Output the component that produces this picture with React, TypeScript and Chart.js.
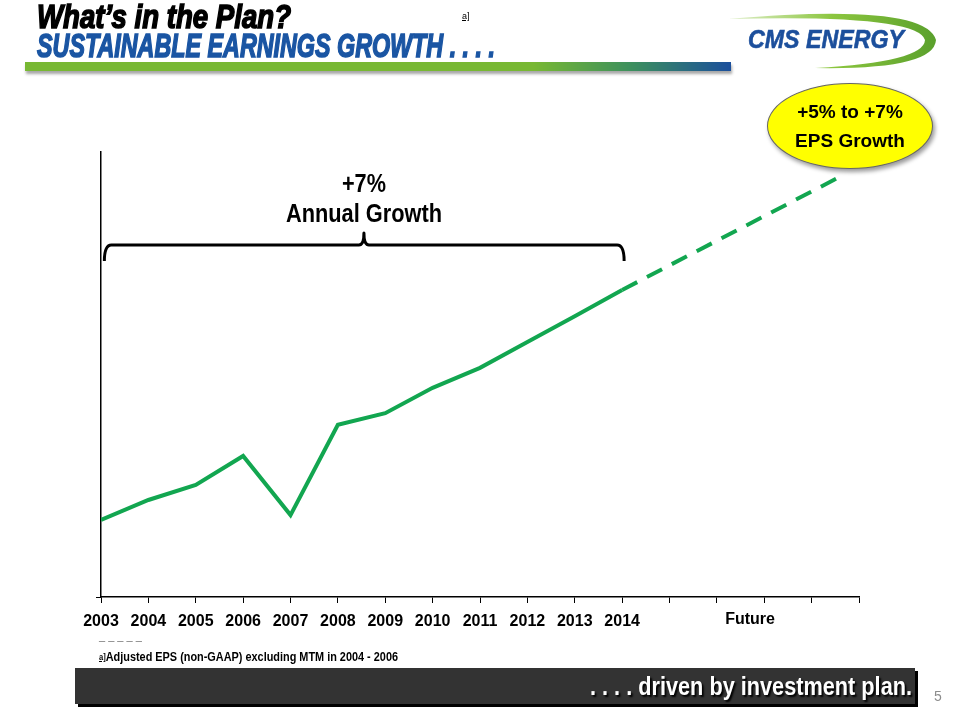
import React, { useEffect, useLayoutEffect, useRef } from "react";
import { Chart, registerables } from "chart.js";

Chart.register(...registerables);

// ---- data ----
const years = ["2003", "2004", "2005", "2006", "2007", "2008", "2009", "2010", "2011", "2012", "2013", "2014"];
const eps = [1.73, 2.18, 2.52, 3.17, 1.84, 3.87, 4.13, 4.7, 5.15, 5.73, 6.31, 6.9];
const futureX = [11, 15.52];
const futureY = [6.9, 9.4];
const futureLabel = "Future";
const futureLabelX = 13.7;
const bracketSpan = [0.05, 11];
const bracketCenter = 5.55;
const bracketLevel = 7.91;
const growthText = ["+7%", "Annual Growth"];
const bubbleText = ["+5% to +7%", "EPS Growth"];

const SANS = "'Liberation Sans', Arial, sans-serif";
const GREEN = "#12a650";

function drawNarrow(ctx: any, text: string, cx: number, cy: number, targetW: number) {
  const w = ctx.measureText(text).width;
  const s = targetW / w;
  ctx.save();
  ctx.translate(cx, cy);
  ctx.scale(s, 1);
  ctx.fillText(text, 0, 0);
  ctx.restore();
}

const annotate = {
  id: "annotate",
  afterDatasetsDraw(chart: any) {
    const { ctx, scales, chartArea } = chart;
    const x = scales.x;
    const y = scales.y;
    ctx.save();
    // bracket
    const xl = x.getPixelForValue(bracketSpan[0]) + 1;
    const xr = x.getPixelForValue(bracketSpan[1]) + 2;
    const xc = x.getPixelForValue(bracketCenter);
    const ym = y.getPixelForValue(bracketLevel);
    ctx.strokeStyle = "#000";
    ctx.lineWidth = 3;
    ctx.lineJoin = "round";
    ctx.beginPath();
    ctx.moveTo(xl, ym + 16);
    ctx.quadraticCurveTo(xl, ym, xl + 7, ym);
    ctx.lineTo(xc - 5, ym);
    ctx.quadraticCurveTo(xc, ym, xc, ym - 12);
    ctx.quadraticCurveTo(xc, ym, xc + 5, ym);
    ctx.lineTo(xr - 7, ym);
    ctx.quadraticCurveTo(xr, ym, xr, ym + 16);
    ctx.stroke();
    // growth text
    ctx.fillStyle = "#000";
    ctx.textAlign = "center";
    ctx.textBaseline = "middle";
    ctx.font = `bold 25px ${SANS}`;
    drawNarrow(ctx, growthText[0], xc, ym - 60, 44);
    drawNarrow(ctx, growthText[1], xc, ym - 30, 156);
    // Future label
    ctx.font = `bold 16px ${SANS}`;
    ctx.fillText(futureLabel, x.getPixelForValue(futureLabelX), chartArea.bottom + 23);
    ctx.restore();
  },
};

function ChartCanvas() {
  const ref = useRef<HTMLCanvasElement>(null);
  useEffect(() => {
    if (!ref.current) return;
    const chart = new Chart(ref.current, {
      type: "line",
      data: {
        datasets: [
          {
            data: eps.map((v, i) => ({ x: i, y: v })),
            borderColor: GREEN,
            borderWidth: 4,
            pointRadius: 0,
            tension: 0,
          },
          {
            data: futureX.map((v, i) => ({ x: v, y: futureY[i] })),
            borderColor: GREEN,
            borderWidth: 4,
            borderDash: [17, 11],
            pointRadius: 0,
            tension: 0,
          },
        ],
      },
      options: {
        responsive: false,
        animation: false,
        layout: { padding: { top: 152, right: 101, bottom: 0, left: 96 } },
        plugins: { legend: { display: false }, tooltip: { enabled: false } },
        scales: {
          x: {
            type: "linear",
            min: 0,
            max: 16,
            afterFit: (s: any) => {
              s.height = 123;
            },
            afterBuildTicks: (s: any) => {
              s.ticks = Array.from({ length: 17 }, (_, i) => ({ value: i }));
            },
            ticks: {
              autoSkip: false,
              maxRotation: 0,
              padding: 9,
              color: "#000",
              font: { family: SANS, size: 16, weight: "bold" },
              callback: (v: any) => years[v] ?? "",
            },
            grid: { drawOnChartArea: false, drawTicks: true, tickLength: 6, color: "#000", lineWidth: 1 },
            border: { display: true, color: "#000", width: 1.5 },
          },
          y: {
            min: 0,
            max: 10,
            afterFit: (s: any) => {
              s.width = 5;
            },
            ticks: { display: false, stepSize: 10 },
            grid: {
              drawOnChartArea: false,
              drawTicks: true,
              tickLength: 5,
              color: (c: any) => (c.tick && c.tick.value === 0 ? "#000" : "rgba(0,0,0,0)"),
            },
            border: { display: true, color: "#000", width: 1.5 },
          },
        },
      },
      plugins: [annotate],
    });
    return () => chart.destroy();
  }, []);
  return <canvas ref={ref} width={960} height={720} style={{ position: "absolute", left: 0, top: 0 }} />;
}

function Fit({ w, left, top, style, children }: any) {
  const ref = useRef<HTMLDivElement>(null);
  useLayoutEffect(() => {
    const el = ref.current;
    if (!el) return;
    el.style.transform = "none";
    const nat = el.getBoundingClientRect().width;
    if (nat > 0) el.style.transform = `scaleX(${w / nat})`;
  }, [w]);
  return (
    <div
      ref={ref}
      style={{
        position: "absolute",
        left,
        top,
        whiteSpace: "pre",
        transformOrigin: "left top",
        ...style,
      }}
    >
      {children}
    </div>
  );
}

export default function App() {
  return (
    <div style={{ position: "absolute", left: 0, top: 0, width: 960, height: 720, background: "#fff", overflow: "hidden" }}>
      <ChartCanvas />
      {/* header */}
      <Fit
        w={254}
        left={37}
        top={-1}
        style={{ font: `italic bold 34px ${SANS}`, lineHeight: "34px", color: "#000", WebkitTextStroke: "1.6px #000" }}
      >
        What’s in the Plan?
      </Fit>
      <Fit
        w={458}
        left={37}
        top={28}
        style={{ font: `italic bold 34px ${SANS}`, lineHeight: "34px", color: "#1a55a3", WebkitTextStroke: "1.6px #1a55a3" }}
      >
        SUSTAINABLE EARNINGS GROWTH . . . .
      </Fit>
      <div style={{ position: "absolute", left: 462, top: 11, font: `9px ${SANS}`, color: "#000", textDecoration: "underline" }}>a]</div>
      <div
        style={{
          position: "absolute",
          left: 25,
          top: 62,
          width: 706,
          height: 9,
          background: "linear-gradient(to right, #78b833 0%, #78b833 72%, #3c8f5e 86%, #1b4f9c 100%)",
          boxShadow: "1px 3px 3px rgba(0,0,0,0.35)",
        }}
      />
      {/* logo */}
      <svg width={240} height={80} style={{ position: "absolute", left: 720, top: 0 }}>
        <defs>
          <linearGradient id="sw" x1="0" x2="1" y1="0" y2="0">
            <stop offset="0" stopColor="#e2f0cf" />
            <stop offset="0.5" stopColor="#8cc63f" />
            <stop offset="1" stopColor="#5aa02c" />
          </linearGradient>
        </defs>
        <path d="M 8,19 Q 205,2 216,40 Q 214,70 95,68 Q 204,62 205,40 Q 198,14 8,19 Z" fill="url(#sw)" />
      </svg>
      <Fit
        w={156}
        left={748}
        top={27}
        style={{ font: `italic bold 25px ${SANS}`, lineHeight: "25px", color: "#1c4f9c", WebkitTextStroke: "0.6px #1c4f9c" }}
      >
        CMS ENERGY
      </Fit>
      {/* bubble */}
      <div
        style={{
          position: "absolute",
          left: 767,
          top: 83,
          width: 164,
          height: 84,
          borderRadius: "50%",
          background: "#ffff00",
          border: "1px solid #666",
          boxShadow: "2px 3px 4px rgba(0,0,0,0.4)",
          display: "flex",
          flexDirection: "column",
          alignItems: "center",
          justifyContent: "center",
          font: `bold 19px ${SANS}`,
          lineHeight: "29px",
          color: "#000",
        }}
      >
        <div>{bubbleText[0]}</div>
        <div>{bubbleText[1]}</div>
      </div>
      {/* footnote */}
      <div style={{ position: "absolute", left: 99, top: 630, font: `bold 11px ${SANS}`, color: "#000", whiteSpace: "pre" }}>_ _ _ _ _</div>
      <Fit w={299} left={99} top={649} style={{ font: `bold 13px ${SANS}`, lineHeight: "16px", color: "#000" }}>
        <span style={{ fontSize: 9, verticalAlign: "top", textDecoration: "underline" }}>a]</span>
        Adjusted EPS (non-GAAP) excluding MTM in 2004 - 2006
      </Fit>
      {/* bottom bar */}
      <div
        style={{
          position: "absolute",
          left: 75,
          top: 668,
          width: 840,
          height: 36,
          background: "#333333",
          boxShadow: "3px 3px 0 #000",
        }}
      />
      <Fit
        w={322}
        left={590}
        top={672}
        style={{ font: `bold 25px ${SANS}`, lineHeight: "28px", color: "#fff", textShadow: "2px 2px 2px #000" }}
      >
        . . . . driven by investment plan.
      </Fit>
      <div style={{ position: "absolute", left: 934, top: 688, font: `14px ${SANS}`, color: "#8c8c8c" }}>5</div>
    </div>
  );
}
